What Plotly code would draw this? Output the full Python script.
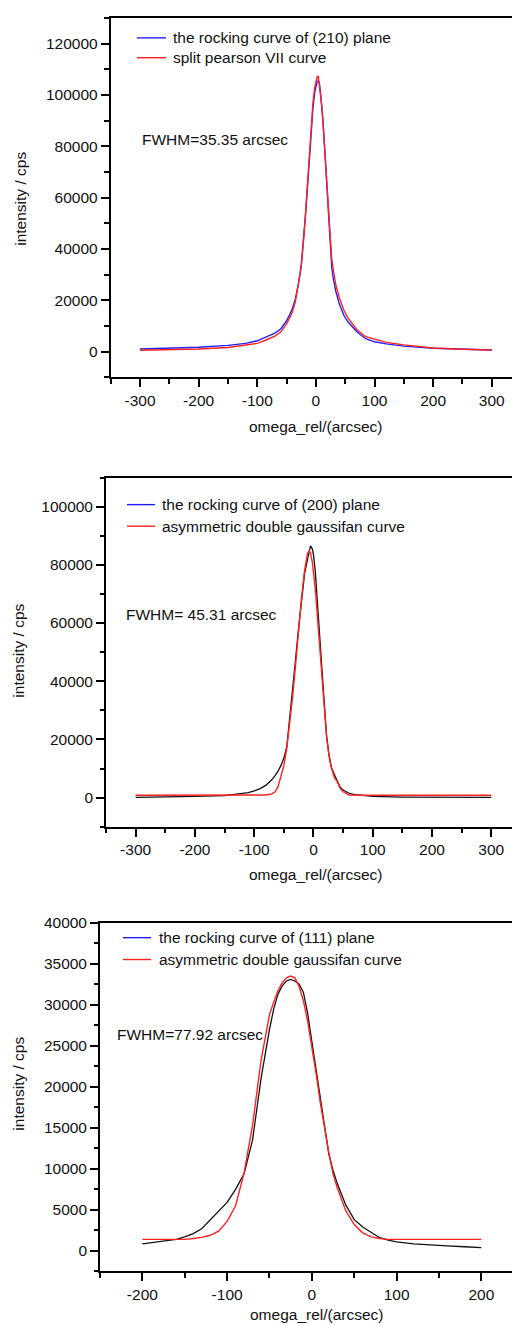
import plotly.graph_objects as go

# The page body has an 8 px default margin, so the figure is made 8 px smaller
# and every layout position below is given in page pixels and shifted by OFF.
PAGE_W, PAGE_H = 520, 1325
OFF = 8
W, H = PAGE_W - OFF, PAGE_H - OFF

# ---------------- Panel 1: (210) plane ----------------
x1 = [-300, -250, -200, -150, -120, -100, -85, -70, -60, -50, -45, -40, -35, -30, -25,
      -20, -17, -14, -11, -8, -5, -2, 0, 2, 4, 6, 8, 10, 12, 15, 18, 21, 24, 27, 30,
      34, 40, 48, 55, 62, 70, 85, 100, 120, 150, 200, 250, 300]
meas1 = [1000, 1300, 1700, 2400, 3200, 4200, 5600, 7200, 8800, 12000, 14200, 16800, 20500, 26000, 33500,
         46000, 55000, 65000, 76000, 87000, 95000, 101000, 103500, 105000, 105600, 104500, 100500, 96000, 90000, 79000, 68000, 55000, 43000, 33000, 28000,
         23500, 18500, 14000, 11500, 9700, 7700, 5000, 3800, 3000, 2100, 1300, 900, 600]
fit1 = [500, 700, 1000, 1600, 2400, 3200, 4500, 6000, 7600, 10800, 13000, 15500, 19500, 25500, 33000,
        46000, 56000, 66000, 77000, 88000, 97000, 103000, 105500, 107000, 107500, 104000, 100000, 96000, 90000, 80000, 70000, 57000, 46000, 36000, 31500,
        26000, 21000, 16000, 13000, 10900, 8500, 5800, 4800, 3600, 2600, 1400, 900, 600]

# ---------------- Panel 2: (200) plane ----------------
x2 = [-300, -250, -200, -150, -130, -110, -100, -90, -80, -70, -65, -60, -55, -50, -45, -40,
      -35, -30, -25, -20, -15, -10, -7, -5, -2, 0, 3, 6, 10, 14, 18, 22, 26, 30, 35, 40,
      45, 50, 60, 70, 85, 100, 150, 200, 250, 300]
meas2 = [100, 200, 400, 700, 1100, 1700, 2300, 3100, 4300, 6200, 7500, 9000, 11000, 13500, 17500, 27000,
         38000, 48000, 58500, 69000, 77000, 82000, 85500, 86500, 85500, 83500, 78000, 70000, 57000, 45000, 33000, 21500, 15000, 10500, 8000, 6000,
         3600, 2600, 1500, 1000, 600, 400, 200, 100, 100, 100]
fit2 = [800, 800, 800, 800, 800, 800, 800, 800, 900, 1300, 2000, 3600, 7000, 11000, 17000, 25000,
        35000, 46000, 58000, 69000, 78000, 84000, 84800, 84000, 81000, 78000, 72000, 64000, 53000, 41000, 30000, 21000, 14500, 10500, 7000, 5500,
        3200, 2000, 900, 800, 800, 800, 800, 800, 800, 800]

# ---------------- Panel 3: (111) plane ----------------
x3 = [-200, -180, -160, -150, -140, -130, -120, -110, -100, -90, -80, -70, -60, -50, -45, -40,
      -35, -30, -25, -20, -15, -10, -5, 0, 5, 10, 15, 20, 25, 30, 40, 50, 60, 70, 80, 90,
      100, 120, 140, 160, 180, 200]
meas3 = [850, 1100, 1400, 1700, 2100, 2700, 3800, 4900, 5900, 7500, 9400, 13500, 21000, 27000, 29500, 31300,
         32300, 32900, 33100, 32900, 32500, 31500, 29000, 25500, 22000, 18300, 14700, 11800, 9800, 8200, 5600, 3800, 2900, 2200, 1600, 1300,
         1100, 850, 700, 600, 500, 400]
fit3 = [1400, 1400, 1400, 1400, 1500, 1650, 1900, 2400, 3600, 5500, 9500, 15300, 23200, 28800, 30300, 31700,
        32700, 33300, 33500, 33300, 32200, 30500, 28000, 25000, 21600, 18000, 14900, 12000, 9400, 7700, 4900, 3200, 2200, 1700, 1500, 1400,
        1400, 1400, 1400, 1400, 1400, 1400]

# tick values / labels
xt12 = [-300, -200, -100, 0, 100, 200, 300]
xt3 = [-200, -100, 0, 100, 200]
yt1 = [0, 20000, 40000, 60000, 80000, 100000, 120000]
yt2 = [0, 20000, 40000, 60000, 80000, 100000]
yt3 = [0, 5000, 10000, 15000, 20000, 25000, 30000, 35000, 40000]

leg1 = ["the rocking curve of (210) plane", "split pearson VII curve"]
leg2 = ["the rocking curve of (200) plane", "asymmetric double gaussifan curve"]
leg3 = ["the rocking curve of (111) plane", "asymmetric double gaussifan curve"]
fwhm = ["FWHM=35.35 arcsec", "FWHM= 45.31 arcsec", "FWHM=77.92 arcsec"]
xtitle = "omega_rel/(arcsec)"
ytitle = "intensity / cps"

BLUE = "#2020ff"
RED = "#ff2020"
BLACK = "#111111"
FONT = "Liberation Sans, Arial, sans-serif"
FS = 15.5

fig = go.Figure()

fig.add_trace(go.Scatter(x=x1, y=meas1, mode="lines", line=dict(color=BLUE, width=1.4),
                         name=leg1[0], xaxis="x", yaxis="y"))
fig.add_trace(go.Scatter(x=x1, y=fit1, mode="lines", line=dict(color=RED, width=1.4),
                         name=leg1[1], xaxis="x", yaxis="y"))
fig.add_trace(go.Scatter(x=x2, y=meas2, mode="lines", line=dict(color=BLACK, width=1.3),
                         name=leg2[0], xaxis="x2", yaxis="y2"))
fig.add_trace(go.Scatter(x=x2, y=fit2, mode="lines", line=dict(color=RED, width=1.4),
                         name=leg2[1], xaxis="x2", yaxis="y2"))
fig.add_trace(go.Scatter(x=x3, y=meas3, mode="lines", line=dict(color=BLACK, width=1.3),
                         name=leg3[0], xaxis="x3", yaxis="y3"))
fig.add_trace(go.Scatter(x=x3, y=fit3, mode="lines", line=dict(color=RED, width=1.4),
                         name=leg3[1], xaxis="x3", yaxis="y3"))


def px(v):
    """page x pixel -> paper fraction"""
    return (v - OFF) / W


def py(v):
    """page y pixel -> paper fraction"""
    return 1 - (v - OFF) / H


def axis(domain, rng, tv, anchor, minor_dtick, mirror):
    return dict(domain=domain, range=rng, anchor=anchor, showline=True, linecolor="black",
                linewidth=1.8, mirror=mirror, ticks="outside", ticklen=8, tickwidth=1.5,
                tickcolor="black", tickmode="array", tickvals=tv, ticktext=[str(v) for v in tv],
                showgrid=False, zeroline=False, tickfont=dict(family=FONT, size=FS, color="#111111"),
                minor=dict(dtick=minor_dtick, tick0=0, ticks="outside", ticklen=4.5, tickwidth=1.5,
                           tickcolor="black", showgrid=False),
                fixedrange=True)


d1x = [px(110.7), 1]
d1y = [py(370.7), py(9)]
d2x = [px(106), 1]
d2y = [py(823.3), py(471.7)]
d3x = [px(100), 1]
d3y = [py(1271), py(920)]

tfont = dict(family=FONT, size=FS, color="#111111")

annotations = []
shapes = []
# legends drawn as line samples + labels
legend_specs = [
    (137, 166, 171, [29, 49], leg1, [BLUE, RED]),
    (127, 155, 160, [499, 520.7], leg2, [BLUE, RED]),
    (123, 151, 157, [935, 957], leg3, [BLUE, RED]),
]
for (sx0, sx1, tx, rows, labels, cols) in legend_specs:
    for ry, lab, c in zip(rows, labels, cols):
        shapes.append(dict(type="line", xref="paper", yref="paper", x0=px(sx0), x1=px(sx1),
                           y0=py(ry), y1=py(ry), line=dict(color=c, width=1.4)))
        annotations.append(dict(x=px(tx), y=py(ry), xref="paper", yref="paper", text=lab,
                                showarrow=False, xanchor="left", yanchor="middle", font=tfont))

for (tx, ty, t) in [(140, 131, fwhm[0]), (124.3, 610, fwhm[1]), (115, 1033, fwhm[2])]:
    annotations.append(dict(x=px(tx), y=py(ty), xref="paper", yref="paper", text=t, showarrow=False,
                            xanchor="left", yanchor="middle", font=tfont))
for (tx, ty) in [(316, 420), (316, 871), (316.7, 1314)]:
    annotations.append(dict(x=px(tx), y=py(ty), xref="paper", yref="paper", text=xtitle, showarrow=False,
                            xanchor="center", yanchor="middle", font=tfont))
for (tx, ty) in [(21, 191), (19, 646), (19, 1082)]:
    annotations.append(dict(x=px(tx), y=py(ty), xref="paper", yref="paper", text=ytitle, showarrow=False,
                            xanchor="center", yanchor="middle", textangle=-90, font=tfont))

fig.update_layout(
    width=W, height=H,
    margin=dict(l=0, r=0, t=0, b=0),
    paper_bgcolor="white", plot_bgcolor="white",
    font=tfont,
    showlegend=False,
    xaxis=axis(d1x, [-350, 348.2], xt12, "y", 50, True),
    yaxis=axis(d1y, [-10000, 130000], yt1, "x", 10000, False),
    xaxis2=axis(d2x, [-350, 348.4], xt12, "y2", 50, True),
    yaxis2=axis(d2y, [-10000, 110000], yt2, "x2", 10000, False),
    xaxis3=axis(d3x, [-250, 245.6], xt3, "y3", 50, True),
    yaxis3=axis(d3y, [-2500, 40000], yt3, "x3", 2500, False),
    annotations=annotations,
    shapes=shapes,
)

fig.write_html("out.html")
